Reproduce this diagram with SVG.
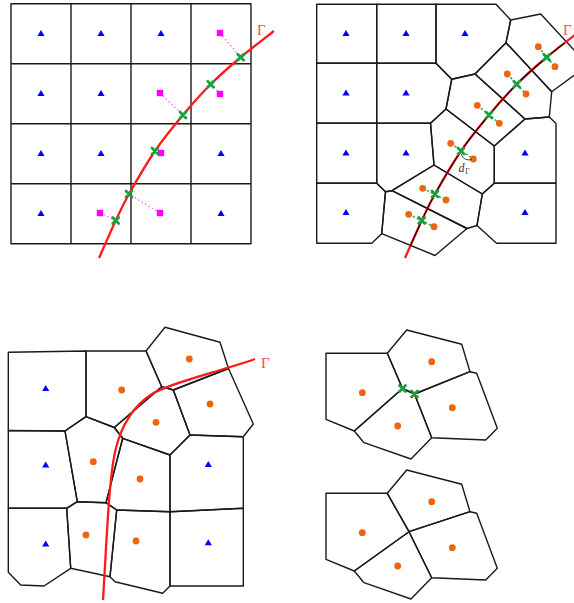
<svg xmlns="http://www.w3.org/2000/svg" xmlns:xlink="http://www.w3.org/1999/xlink" width="574" height="603" viewBox="0 0 574 603">
<style>
.cell{fill:none;stroke:#1a1a1a;stroke-width:1.4;stroke-linejoin:round}
.gam{fill:none;stroke:#ff1a1a;stroke-width:2.3;stroke-linecap:butt}
.lbl{font-family:"Liberation Serif",serif;font-size:15px;fill:#ff4d4d}
.tri{fill:#0000ff}
.dot{fill:#ee6410}
.sq{fill:#ff00ff}
.mdot{stroke:#ff66ff;stroke-width:1.3;stroke-dasharray:1.5 2.5;fill:none}
.gdash{stroke:#2fb04f;stroke-width:1.5;stroke-dasharray:2.5 2;fill:none}
.crs{stroke:#1c9e3e;stroke-width:2.8;stroke-linecap:round;fill:none}
</style>
<defs>
<path id="t" class="tri" d="M0,-3.6 L3.6,2.5 L-3.6,2.5 Z"/>
<circle id="o" class="dot" r="3.4"/>
<rect id="s" class="sq" x="-3.2" y="-3.2" width="6.4" height="6.4"/>
<path id="x" class="crs" d="M-3,-3 L3,3 M-3,3 L3,-3"/>
<path id="curve" d="M99,258 C101.8,251.7 111,230.7 116,220 C121,209.3 122.5,205.5 129,194 C135.5,182.5 146,164.2 155,151 C164,137.8 173.7,126.2 183,115 C192.3,103.8 201.3,93.7 211,84 C220.7,74.3 230.5,65.8 241,57 C251.5,48.2 268.5,35.3 274,31"/>
<clipPath id="mid"><rect x="300" y="43" width="274" height="203"/></clipPath>
</defs>

<!-- Panel 1 : Cartesian grid -->
<g id="panel1">
<g id="p1-grid" class="cell">
<rect x="11" y="3.7" width="240" height="240"/>
<path d="M71,3.7V243.7 M131,3.7V243.7 M191,3.7V243.7 M11,63.7H251 M11,123.7H251 M11,183.7H251"/>
</g>
<g id="p1-tris">
<use xlink:href="#t" x="41" y="33.5"/><use xlink:href="#t" x="101" y="33.5"/><use xlink:href="#t" x="161" y="33.5"/>
<use xlink:href="#t" x="41" y="93.5"/><use xlink:href="#t" x="101" y="93.5"/>
<use xlink:href="#t" x="41" y="153.5"/><use xlink:href="#t" x="101" y="153.5"/><use xlink:href="#t" x="221" y="153.5"/>
<use xlink:href="#t" x="41" y="213.5"/><use xlink:href="#t" x="221" y="213.5"/>
</g>
<g id="p1-proj">
<path class="mdot" d="M220,33 L240.7,57.3 M220,94 L210.7,84.3 M160,93 L183,115 M100,213 L115.7,220.5 M160,213 L129,194"/>
</g>
<use xlink:href="#curve" class="gam"/>
<g id="p1-squares">
<use xlink:href="#s" x="220" y="33"/><use xlink:href="#s" x="160" y="93"/><use xlink:href="#s" x="220" y="94"/>
<use xlink:href="#s" x="161" y="153"/><use xlink:href="#s" x="100" y="213"/><use xlink:href="#s" x="160" y="213"/>
</g>
<g id="p1-crosses">
<use xlink:href="#x" x="240.7" y="57.3"/><use xlink:href="#x" x="210.7" y="84.3"/><use xlink:href="#x" x="183" y="115"/>
<use xlink:href="#x" x="155" y="151"/><use xlink:href="#x" x="129" y="194"/><use xlink:href="#x" x="115.7" y="220.5"/>
</g>
<text class="lbl" x="257" y="35">Γ</text>
</g>

<!-- Panel 2 : fitted Voronoi mesh -->
<g id="panel2">
<g id="p2-cells" class="cell">
<polygon id="p2c1" points="316.7,4.3 376.7,4.3 376.7,63.3 316.7,63.3"/>
<polygon id="p2c2" points="376.7,4.3 436,4.3 436,63.3 376.7,63.3"/>
<polygon id="p2c3" points="436,4.3 496,4.3 510.7,20 506,42.7 475,74 451.7,79.3 436,63.3"/>
<polygon id="p2c4" points="510.7,20 540.7,14 588,65 551.7,91.7 506,42.7"/>
<polygon id="p2c5" points="316.7,63.3 376.7,63.3 376.7,123.3 316.7,123.3"/>
<polygon id="p2c6" points="376.7,63.3 436,63.3 451.7,79.3 446,109 430.5,123.3 376.7,123.3"/>
<polygon id="p2c7" points="475,74 506,42.7 551.7,91.7 549.3,117 525,119"/>
<polygon id="p2c8" points="451.7,79.3 475,74 525,119 494.3,146 446,109"/>
<polygon id="p2c9" points="316.7,123.3 376.7,123.3 376.7,183.3 316.7,183.3"/>
<polygon id="p2c10" points="376.7,123.3 430.5,123.3 434,165 392,190.7 385.5,191.7 376.7,183.3"/>
<polygon id="p2c11" points="446,109 494.3,146 494.3,183.3 482.3,194 434,165 430.5,123.3"/>
<polygon id="p2c12" points="494.3,146 525,119 549.3,117 556,123.5 556,183.3 494.3,183.3"/>
<polygon id="p2c13" points="316.7,183.3 376.7,183.3 385.5,191.7 381.7,233.7 371.7,243.3 316.7,243.3"/>
<polygon id="p2c14" points="392,190.7 434,165 482.3,194 477,225.5 467,228.5"/>
<polygon id="p2c15" points="385.5,191.7 392,190.7 467,228.5 435,255.5 381.7,233.7"/>
<polygon id="p2c16" points="482.3,194 494.3,183.3 556,183.3 556,243.3 496.5,243.3 477,225.5"/>
</g>
<g id="p2-tris">
<use xlink:href="#t" x="346" y="33.5"/><use xlink:href="#t" x="406" y="33.5"/><use xlink:href="#t" x="465" y="33.5"/>
<use xlink:href="#t" x="346" y="93"/><use xlink:href="#t" x="406" y="93"/>
<use xlink:href="#t" x="346" y="153"/><use xlink:href="#t" x="406" y="153"/><use xlink:href="#t" x="525" y="153"/>
<use xlink:href="#t" x="346" y="212.5"/><use xlink:href="#t" x="525" y="212.5"/>
</g>
<g id="p2-pairs">
<path class="gdash" d="M538.3,46.7 L555,66.7 M507.3,74 L526,94 M477.3,105.3 L499.3,123.3 M450.7,143.3 L473.3,159 M422.7,188.3 L446,200 M408.7,214.3 L434,226.7"/>
</g>
<g transform="translate(306,0)"><use xlink:href="#curve" class="gam"/></g>
<g clip-path="url(#mid)"><g transform="translate(306,0)"><use xlink:href="#curve" fill="none" stroke="#1a0000" stroke-width="1.1"/></g></g>
<g id="p2-dots">
<use xlink:href="#o" x="538.3" y="46.7"/><use xlink:href="#o" x="555" y="66.7"/>
<use xlink:href="#o" x="507.3" y="74"/><use xlink:href="#o" x="526" y="94"/>
<use xlink:href="#o" x="477.3" y="105.3"/><use xlink:href="#o" x="499.3" y="123.3"/>
<use xlink:href="#o" x="450.7" y="143.3"/><use xlink:href="#o" x="473.3" y="159"/>
<use xlink:href="#o" x="422.7" y="188.3"/><use xlink:href="#o" x="446" y="200"/>
<use xlink:href="#o" x="408.7" y="214.3"/><use xlink:href="#o" x="434" y="226.7"/>
</g>
<g id="p2-crosses">
<use xlink:href="#x" x="546.7" y="57.3"/><use xlink:href="#x" x="516.7" y="84.3"/><use xlink:href="#x" x="489" y="115"/>
<use xlink:href="#x" x="461" y="151"/><use xlink:href="#x" x="435" y="194"/><use xlink:href="#x" x="421.7" y="220.5"/>
</g>
<g id="p2-dgamma">
<path d="M461,154 Q464,161.5 472,159.5" fill="none" stroke="#333" stroke-width="0.9"/>
<text x="458.5" y="171.5" font-family="'Liberation Serif',serif" font-style="italic" font-size="12" fill="#333">d</text>
<text x="465.3" y="173.5" font-family="'Liberation Serif',serif" font-size="7.5" fill="#333">Γ</text>
</g>
<text class="lbl" x="563" y="35">Γ</text>
</g>

<!-- Panel 3 : final mesh around curved interface -->
<g id="panel3">
<g id="p3-cells" class="cell">
<polygon id="p3c1" points="8.3,352.3 86,351 86,416.7 65,431 8.3,430.5"/>
<polygon id="p3c2" points="86,351 146,351 161.7,386.7 114.3,427.5 86,416.7"/>
<polygon id="p3c3" points="146,351 165,327.3 220,342.3 228.5,368.5 173.3,390 161.7,386.7"/>
<polygon id="p3c4" points="173.3,390 228.5,368.5 253.3,424 243.3,436.7 190,435"/>
<polygon id="p3c5" points="114.3,427.5 161.7,386.7 173.3,390 190,435 170,455 122.7,438.3"/>
<polygon id="p3c6" points="8.3,430.5 65,431 77.3,501.7 66.7,508.3 8.3,508.3"/>
<polygon id="p3c7" points="65,431 86,416.7 114.3,427.5 122.7,438.3 106,502.7 77.3,501.7"/>
<polygon id="p3c8" points="122.7,438.3 170,455 170,511.7 116.7,510 106,502.7"/>
<polygon id="p3c9" points="190,435 243.3,436.7 243.3,508.3 170,511.7 170,455"/>
<polygon id="p3c10" points="8.3,508.3 66.7,508.3 70.7,568.3 44,586 20.7,585 8.3,572.3"/>
<polygon id="p3c11" points="77.3,501.7 106,502.7 116.7,510 110,576.7 70.7,568.3 66.7,508.3"/>
<polygon id="p3c12" points="116.7,510 170,511.7 170,586 162.7,593.3 115,581.7 110,576.7"/>
<polygon id="p3c13" points="170,511.7 243.3,508.3 243.3,586 170,586"/>
</g>
<g id="p3-tris">
<use xlink:href="#t" x="45.7" y="388.5"/><use xlink:href="#t" x="45.7" y="465"/><use xlink:href="#t" x="208.3" y="464.5"/>
<use xlink:href="#t" x="45.7" y="544"/><use xlink:href="#t" x="208.3" y="542.8"/>
</g>
<g id="p3-dots">
<use xlink:href="#o" x="189.3" y="359"/><use xlink:href="#o" x="121.7" y="390"/><use xlink:href="#o" x="210" y="404"/>
<use xlink:href="#o" x="156" y="422.3"/><use xlink:href="#o" x="93.3" y="461.7"/><use xlink:href="#o" x="140" y="479"/>
<use xlink:href="#o" x="86" y="535"/><use xlink:href="#o" x="136" y="541"/>
</g>
<path class="gam" d="M103,600 C107,535 109,475 116,448 C122,424 135,405 152,394 C170,383 215,373 255,359"/>
<text class="lbl" x="261" y="367.5">Γ</text>
</g>

<!-- Panel 4 : collapsing a short edge -->
<g id="panel4">
<g id="p4-top" class="cell">
<polygon id="p4a1" points="326,353.3 387.3,353.3 402.5,388.5 354.3,431 326,419.3"/>
<polygon id="p4a2" points="387.3,353.3 406.7,330 461.7,344.3 470,371.7 414.5,394 402.5,388.5"/>
<polygon id="p4a3" points="470,371.7 476.7,373.3 497.3,428.3 485.7,440 431.7,437.7 414.5,394"/>
<polygon id="p4a4" points="354.3,431 402.5,388.5 414.5,394 431.7,437.7 411,459 364,442.7"/>
</g>
<g id="p4-top-dots">
<use xlink:href="#o" x="362.3" y="392.7"/><use xlink:href="#o" x="431.7" y="361.7"/>
<use xlink:href="#o" x="452.3" y="407.7"/><use xlink:href="#o" x="397.7" y="426"/>
</g>
<g id="p4-top-crosses">
<use xlink:href="#x" x="402.5" y="388.5"/><use xlink:href="#x" x="414.5" y="394"/>
</g>
<g id="p4-bot" class="cell">
<polygon id="p4b1" points="326,493.3 387.3,493.3 409,531.7 354.3,571 326,559.3"/>
<polygon id="p4b2" points="387.3,493.3 406.7,470 461.7,484.3 470,511.7 409,531.7"/>
<polygon id="p4b3" points="470,511.7 476.7,513.3 497.3,568.3 485.7,580 431.7,577.7 409,531.7"/>
<polygon id="p4b4" points="354.3,571 409,531.7 431.7,577.7 411,599 364,582.7"/>
</g>
<g id="p4-bot-dots">
<use xlink:href="#o" x="362.3" y="532.7"/><use xlink:href="#o" x="431.7" y="501.7"/>
<use xlink:href="#o" x="452.3" y="547.7"/><use xlink:href="#o" x="397.7" y="566"/>
</g>
</g>
</svg>
